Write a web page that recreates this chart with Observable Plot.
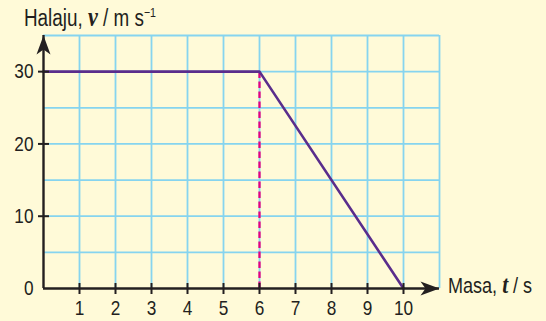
<!DOCTYPE html>
<html><head><meta charset="utf-8">
<script src="https://cdn.jsdelivr.net/npm/d3@7"></script>
<script src="https://cdn.jsdelivr.net/npm/@observablehq/plot@0.6"></script>
<style>
body{margin:0;background:#fffad8;}
#chart{position:relative;width:546px;height:321px;}
</style>
</head><body><div id="chart"></div>
<script>
// Data
const tValues = [0, 6, 10];          // Masa, t / s
const vValues = [30, 30, 0];         // Halaju, v / m s^-1
const dashT = [6];                   // dashed guide at t = 6
const dashV = [0, 30];
const xTickLabels = [1, 2, 3, 4, 5, 6, 7, 8, 9, 10];
const yTickLabels = [0, 10, 20, 30];
const yTickMarks = [10, 20, 30];
const xGrid = [1, 2, 3, 4, 5, 6, 7, 8, 9, 10, 11];
const yGrid = [5, 10, 15, 20, 25, 30, 35];
const xDomain = [0, 11];
const yDomain = [0, 35];

const FONT = '"Liberation Sans", Arial, sans-serif';
const SERIF = '"Liberation Serif", serif';
const NARROW = 0.82;
const INK = "#231f20";
const GRID = "#86d4ef";

const rows = tValues.map((t, i) => ({t, v: vValues[i]}));

const arrowUp = {draw(c) { c.moveTo(0, 0); c.lineTo(7, 19); c.lineTo(0, 14); c.lineTo(-7, 19); c.closePath(); }};
const arrowRight = {draw(c) { c.moveTo(0, 0); c.lineTo(-19, -7); c.lineTo(-14, 0); c.lineTo(-19, 7); c.closePath(); }};
const vTick = {draw(c) { c.moveTo(0, -5.5); c.lineTo(0, 5.5); }};
const hTick = {draw(c) { c.moveTo(-5.5, 0); c.lineTo(5.5, 0); }};

const plot = Plot.plot({
  width: 546,
  height: 321,
  marginLeft: 43,
  marginRight: 107,
  marginTop: 35,
  marginBottom: 33,
  style: {background: "#fffad8", fontFamily: FONT, fontSize: "21px", color: INK},
  x: {domain: xDomain},
  y: {domain: yDomain},
  marks: [
    Plot.ruleX(xGrid, {stroke: GRID, strokeWidth: 1.8}),
    Plot.ruleY(yGrid, {stroke: GRID, strokeWidth: 1.8}),
    Plot.ruleX(dashT, {x: d => d, y1: () => dashV[0], y2: () => dashV[1], stroke: "#e6007e", strokeWidth: 2.3, strokeDasharray: "6.5,3.5"}),
    Plot.line(rows, {x: "t", y: "v", stroke: "#5a2d8c", strokeWidth: 2.6}),
    Plot.ruleY([0], {stroke: INK, strokeWidth: 2.4}),
    Plot.ruleX([0], {stroke: INK, strokeWidth: 2.4}),
    Plot.dot([null], {x: () => xDomain[1], y: () => 0, symbol: arrowRight, fill: INK, stroke: "none"}),
    Plot.dot([null], {x: () => 0, y: () => yDomain[1], symbol: arrowUp, fill: INK, stroke: "none"}),
    Plot.dot(xTickLabels, {x: d => d, y: () => 0, symbol: vTick, stroke: INK, strokeWidth: 2, fill: "none"}),
    Plot.dot(yTickMarks, {x: () => 0, y: d => d, symbol: hTick, stroke: INK, strokeWidth: 2, fill: "none"}),
    Plot.axisX({ticks: xTickLabels, tickSize: 0, tickPadding: 12, label: null, fontSize: 21, fill: INK}),
    Plot.axisY({ticks: yTickLabels, tickSize: 0, tickPadding: 10, label: null, fontSize: 21, fill: INK})
  ]
});

document.getElementById("chart").appendChild(plot);

const svg = d3.select(plot);

const title = svg.append("text")
  .attr("x", 24).attr("y", 26)
  .attr("text-anchor", "start")
  .attr("font-family", FONT).attr("font-size", 23).attr("fill", INK);
title.append("tspan").text("Halaju, ");
title.append("tspan").attr("font-family", SERIF).attr("font-style", "italic").attr("font-weight", "bold").attr("font-size", 27).text("v");
title.append("tspan").text(" / m s");
title.append("tspan").attr("font-size", 13).attr("dy", -9).text("\u22121");

const xl = svg.append("text")
  .attr("x", 448).attr("y", 293)
  .attr("text-anchor", "start")
  .attr("font-family", FONT).attr("font-size", 22).attr("fill", INK);
xl.append("tspan").text("Masa, ");
xl.append("tspan").attr("font-family", SERIF).attr("font-style", "italic").attr("font-weight", "bold").attr("font-size", 26).text("t");
xl.append("tspan").text(" / s");

// condense all text glyphs horizontally (narrow sans look), keeping anchors
svg.selectAll("text").each(function() {
  const len = this.getComputedTextLength();
  if (len > 0) {
    this.setAttribute("textLength", (len * NARROW).toFixed(2));
    this.setAttribute("lengthAdjust", "spacingAndGlyphs");
  }
});
</script>
</body></html>
